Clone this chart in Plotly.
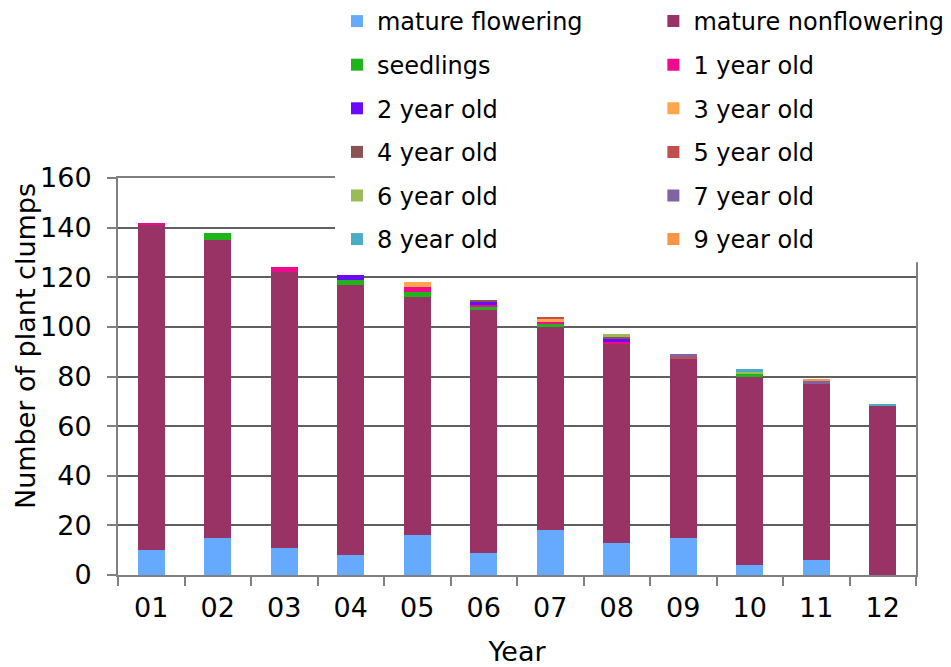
import plotly.graph_objects as go

years = ["01", "02", "03", "04", "05", "06", "07", "08", "09", "10", "11", "12"]

mature_flowering = [10, 15, 11, 8, 16, 9, 18, 13, 15, 4, 6, 0]
mature_nonflowering = [131, 120, 111, 109, 96, 98, 82, 80, 72, 76, 71, 68]
seedlings = [0, 3, 0, 2, 2, 1, 1, 0, 0, 1, 0, 0]
year1 = [1, 0, 2, 0, 2, 1, 1, 1, 0, 0, 0, 0]
year2 = [0, 0, 0, 2, 0, 1, 0, 1, 0, 0, 0, 0]
year3 = [0, 0, 0, 0, 2, 0, 1, 0, 0, 0, 0, 0]
year4 = [0, 0, 0, 0, 0, 1, 0, 1, 0, 0, 0, 0]
year5 = [0, 0, 0, 0, 0, 0, 1, 0, 1, 0, 0, 0]
year6 = [0, 0, 0, 0, 0, 0, 0, 1, 0, 1, 0, 0]
year7 = [0, 0, 0, 0, 0, 0, 0, 0, 1, 0, 1, 0]
year8 = [0, 0, 0, 0, 0, 0, 0, 0, 0, 1, 0, 1]
year9 = [0, 0, 0, 0, 0, 0, 0, 0, 0, 0, 1, 0]

series = [
    ("mature flowering", mature_flowering, "#66AAFF", "legend"),
    ("mature nonflowering", mature_nonflowering, "#993366", "legend2"),
    ("seedlings", seedlings, "#1FB41A", "legend"),
    ("1 year old", year1, "#F00A8C", "legend2"),
    ("2 year old", year2, "#6A0AFF", "legend"),
    ("3 year old", year3, "#FFA64D", "legend2"),
    ("4 year old", year4, "#8B5254", "legend"),
    ("5 year old", year5, "#C0504D", "legend2"),
    ("6 year old", year6, "#9BBB59", "legend"),
    ("7 year old", year7, "#8064A2", "legend2"),
    ("8 year old", year8, "#4BACC6", "legend"),
    ("9 year old", year9, "#F79646", "legend2"),
]

FONT = "DejaVu Sans"

fig = go.Figure()
for name, vals, color, leg in series:
    fig.add_trace(go.Bar(
        x=years, y=vals, name=name, legend=leg, legendgroup=name,
        marker=dict(color=color, line=dict(width=0)),
    ))

legend_common = dict(
    font=dict(family=FONT, size=24, color="black"),
    bgcolor="white", borderwidth=0,
    traceorder="grouped", tracegroupgap=9.4,
    xanchor="left", yanchor="top", orientation="v",
)

fig.update_layout(
    width=943, height=659,
    margin=dict(l=110, r=35, t=170, b=92, autoexpand=False),
    paper_bgcolor="white", plot_bgcolor="white",
    barmode="stack", bargap=0.59,
    font=dict(family=FONT, size=27, color="black"),
    legend=dict(x=0.2744, y=1.4509, **legend_common),
    legend2=dict(x=0.6709, y=1.4509, **legend_common),
    xaxis=dict(
        title=dict(text="Year", font=dict(size=27), standoff=21),
        tickfont=dict(size=27), ticklabelstandoff=8,
        showline=True, linecolor="#808080", linewidth=2, mirror=True,
        ticks="outside", ticklen=9, tickcolor="#808080", tickwidth=1.5,
        tickson="boundaries", showgrid=False,
    ),
    yaxis=dict(
        tickfont=dict(size=27), ticklabelstandoff=10,
        range=[0, 160], dtick=20,
        showline=True, linecolor="#808080", linewidth=2, mirror=True,
        ticks="outside", ticklen=9, tickcolor="#808080", tickwidth=1.5,
        showgrid=True, gridcolor="#606060", gridwidth=1.5,
        zeroline=False,
    ),
    annotations=[dict(
        text="Number of plant clumps", textangle=-90,
        xref="paper", yref="paper", x=-0.1165, y=0.5768,
        xanchor="center", yanchor="middle", showarrow=False,
        font=dict(family=FONT, size=27, color="black"),
    )],
    shapes=[dict(
        type="rect", xref="paper", yref="paper",
        x0=0.272, x1=1.1, y0=0.788, y1=1.6,
        fillcolor="white", line=dict(width=0), layer="above",
    )],
)

fig.write_html("out.html")
